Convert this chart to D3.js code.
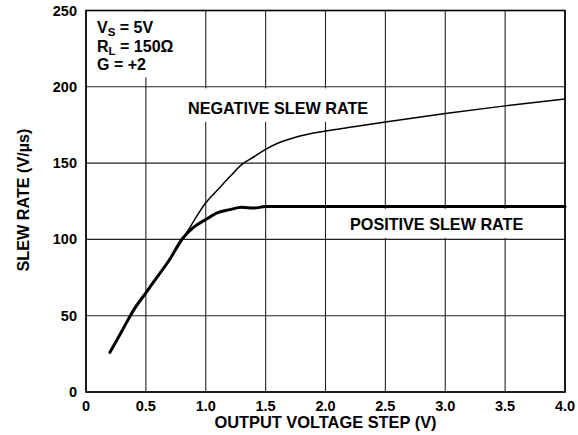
<html><head>
<script src="https://d3js.org/d3.v7.min.js"></script>
<style>
  body { margin: 0; background: white; }
  text { font-family: "Liberation Sans", Arial, sans-serif; font-weight: bold; fill: black; }
</style>
</head>
<body>
<svg id="chart" width="578" height="435"></svg>
<script>
  // values
  const xTicks = [0, 0.5, 1.0, 1.5, 2.0, 2.5, 3.0, 3.5, 4.0];
  const xTickLabels = ["0", "0.5", "1.0", "1.5", "2.0", "2.5", "3.0", "3.5", "4.0"];
  const yTicks = [0, 50, 100, 150, 200, 250];

  const negStep = [0.2, 0.3, 0.4, 0.5, 0.6, 0.7, 0.8, 0.9, 1.0, 1.1, 1.2, 1.3, 1.4, 1.5, 1.6, 1.75, 2.0, 2.25, 2.5, 3.0, 3.5, 4.0];
  const negRate = [26, 40, 54, 65, 76, 87, 99, 112, 124, 132.5, 141, 149, 154, 159, 163, 167, 171, 174, 177, 182.5, 187.5, 192];

  const posStep = [0.2, 0.3, 0.4, 0.5, 0.6, 0.7, 0.8, 0.9, 1.0, 1.1, 1.2, 1.3, 1.4, 1.5, 2.0, 3.0, 4.0];
  const posRate = [26, 40, 54, 65, 76, 87, 100, 108, 113, 117.5, 119.5, 121, 120.5, 121.5, 121.5, 121.5, 121.5];

  const svg = d3.select("svg#chart");
  const margin = { top: 10.5, right: 13, bottom: 43, left: 86 };
  const width = 578 - margin.left - margin.right;
  const height = 435 - margin.top - margin.bottom;

  const x = d3.scaleLinear().domain([0, 4]).range([0, width]);
  const y = d3.scaleLinear().domain([0, 250]).range([height, 0]);

  const g = svg.append("g").attr("transform", `translate(${margin.left},${margin.top})`);

  // grid
  g.selectAll("line.vgrid").data(xTicks)
    .join("line").attr("class", "vgrid")
    .attr("x1", d => x(d)).attr("x2", d => x(d))
    .attr("y1", 0).attr("y2", height)
    .attr("stroke", "#222").attr("stroke-width", 1.1);
  g.selectAll("line.hgrid").data(yTicks)
    .join("line").attr("class", "hgrid")
    .attr("x1", 0).attr("x2", width)
    .attr("y1", d => y(d)).attr("y2", d => y(d))
    .attr("stroke", "#222").attr("stroke-width", 1.1);

  // white boxes behind the labels cut the grid
  g.append("rect").attr("x", 1).attr("y", 1).attr("width", 72).attr("height", 66).attr("fill", "white");
  g.append("rect").attr("x", x(0.8)).attr("y", y(199)).attr("width", x(2.4) - x(0.8)).attr("height", y(177) - y(199)).attr("fill", "white");
  g.append("rect").attr("x", x(2.03)).attr("y", y(120)).attr("width", x(3.98) - x(2.03)).attr("height", y(101) - y(120)).attr("fill", "white");

  // frame
  g.append("rect").attr("x", 0).attr("y", 0).attr("width", width).attr("height", height)
    .attr("fill", "none").attr("stroke", "black").attr("stroke-width", 1.6);

  const line = d3.line().x(d => x(d[0])).y(d => y(d[1])).curve(d3.curveMonotoneX);

  g.append("path").datum(d3.zip(negStep, negRate))
    .attr("d", line).attr("fill", "none").attr("stroke", "black").attr("stroke-width", 1.5);
  g.append("path").datum(d3.zip(posStep, posRate))
    .attr("d", line).attr("fill", "none").attr("stroke", "black").attr("stroke-width", 3)
    .attr("stroke-linecap", "round");

  // tick labels
  g.selectAll("text.xtick").data(xTicks)
    .join("text").attr("class", "xtick")
    .attr("x", d => x(d)).attr("y", height + 19)
    .attr("text-anchor", "middle").attr("font-size", "14.5px")
    .text((d, i) => xTickLabels[i]);
  g.selectAll("text.ytick").data(yTicks)
    .join("text").attr("class", "ytick")
    .attr("x", -9).attr("y", d => y(d) + 5)
    .attr("text-anchor", "end").attr("font-size", "14.5px")
    .text(d => d);

  // axis titles
  svg.append("text").attr("x", 325.5).attr("y", 428)
    .attr("text-anchor", "middle").attr("font-size", "16.4px")
    .text("OUTPUT VOLTAGE STEP (V)");
  svg.append("text").attr("transform", "translate(29,200) rotate(-90)")
    .attr("text-anchor", "middle").attr("font-size", "16.2px")
    .text("SLEW RATE (V/µs)");

  // curve labels
  svg.append("text").attr("x", 188).attr("y", 114).attr("font-size", "16.2px").text("NEGATIVE SLEW RATE");
  svg.append("text").attr("x", 350).attr("y", 230).attr("font-size", "16.2px").text("POSITIVE SLEW RATE");

  // conditions
  const cond = svg.append("text").attr("font-size", "16px");
  const l1 = cond.append("tspan").attr("x", 97).attr("y", 33);
  l1.append("tspan").text("V");
  l1.append("tspan").attr("font-size", "11.5px").attr("dy", 3).text("S");
  l1.append("tspan").attr("dy", -3).text(" = 5V");
  const l2 = cond.append("tspan").attr("x", 97).attr("y", 52);
  l2.append("tspan").text("R");
  l2.append("tspan").attr("font-size", "11.5px").attr("dy", 3).text("L");
  l2.append("tspan").attr("dy", -3).text(" = 150Ω");
  cond.append("tspan").attr("x", 97).attr("y", 70).text("G = +2");
</script>
</body>
</html>
